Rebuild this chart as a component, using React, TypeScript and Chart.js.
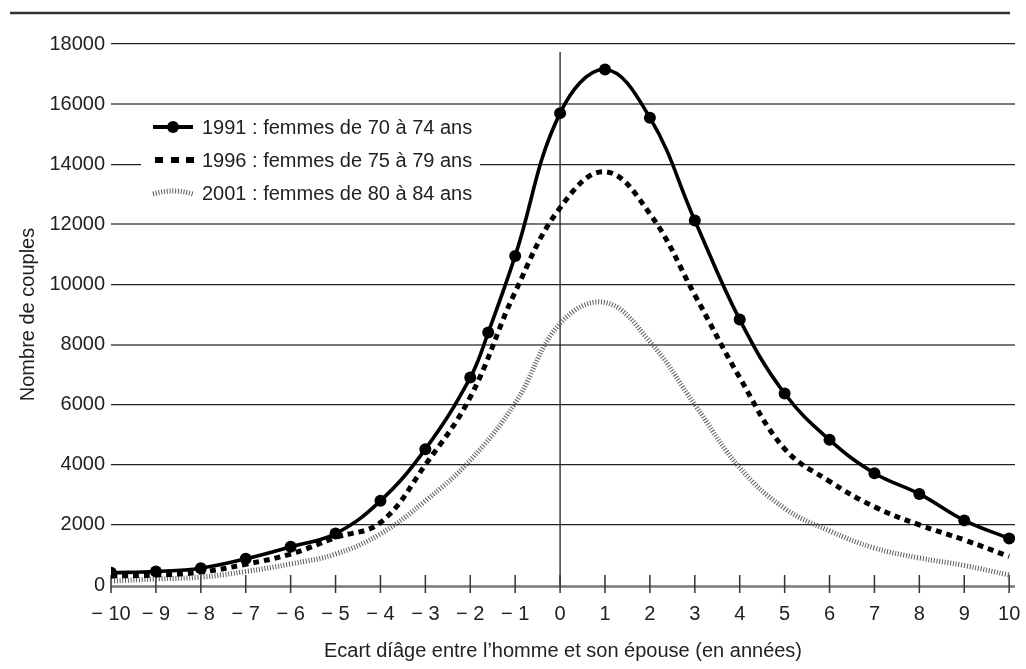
import React, { useEffect, useRef } from "react";
import { Chart, registerables } from "chart.js";

Chart.register(...registerables);

// ---- data ----
const xAges = [-10, -9, -8, -7, -6, -5, -4, -3, -2, -1, 0, 1, 2, 3, 4, 5, 6, 7, 8, 9, 10];
const xTickLabels = [
  "− 10", "− 9", "− 8", "− 7", "− 6", "− 5", "− 4", "− 3", "− 2", "− 1",
  "0", "1", "2", "3", "4", "5", "6", "7", "8", "9", "10",
];
const yTicks = [0, 2000, 4000, 6000, 8000, 10000, 12000, 14000, 16000, 18000];

const x1991 = [-10, -9, -8, -7, -6, -5, -4, -3, -2, -1.6, -1, 0, 1, 2, 3, 4, 5, 6, 7, 8, 9, 10];
const v1991 = [410, 450, 560, 870, 1270, 1710, 2800, 4520, 6900, 8400, 10950, 15700, 17150, 15550, 12130, 8830, 6370, 4830, 3720, 3030, 2150, 1550];
const v1996 = [300, 330, 430, 690, 1030, 1580, 2080, 4000, 6250, 9750, 12550, 13750, 12350, 9650, 6900, 4530, 3450, 2600, 2000, 1500, 950];
const v2001 = [130, 200, 260, 450, 700, 1030, 1700, 2800, 4150, 6050, 8700, 9400, 8100, 6000, 3900, 2550, 1800, 1230, 900, 650, 330];

const seriesLabels = [
  "1991 : femmes de 70 à 74 ans",
  "1996 : femmes de 75 à 79 ans",
  "2001 : femmes de 80 à 84 ans",
];
const yTitle = "Nombre de couples";
const xTitle = "Ecart díâge entre l’homme et son épouse (en années)";

const FONT = "'Liberation Sans', Arial, Helvetica, sans-serif";
const TEXT = "#222";

const decor = {
  id: "decor",
  beforeDatasetsDraw(chart: any) {
    const { ctx, chartArea } = chart;
    const xs = chart.scales.x;
    const ys = chart.scales.y;
    const y0 = ys.getPixelForValue(0);
    ctx.save();
    // top rule
    ctx.strokeStyle = "#333";
    ctx.lineWidth = 2.5;
    ctx.beginPath();
    ctx.moveTo(10, 13);
    ctx.lineTo(1010, 13);
    ctx.stroke();
    // vertical line at 0
    const x0 = xs.getPixelForValue(0);
    ctx.strokeStyle = "#222";
    ctx.lineWidth = 1.3;
    ctx.beginPath();
    ctx.moveTo(x0, chartArea.top + 8);
    ctx.lineTo(x0, y0);
    ctx.stroke();
    // x axis line
    ctx.strokeStyle = "#777";
    ctx.lineWidth = 2.5;
    ctx.beginPath();
    ctx.moveTo(chartArea.left, y0 + 1.5);
    ctx.lineTo(chartArea.right, y0 + 1.5);
    ctx.stroke();
    // tick marks crossing the axis
    ctx.strokeStyle = "#333";
    ctx.lineWidth = 1.5;
    xs.ticks.forEach((t: any) => {
      const px = xs.getPixelForValue(t.value);
      ctx.beginPath();
      ctx.moveTo(px, y0 - 10);
      ctx.lineTo(px, y0 + 8);
      ctx.stroke();
    });
    ctx.restore();
  },
  afterDraw(chart: any) {
    const { ctx } = chart;
    ctx.save();
    ctx.fillStyle = "#fff";
    ctx.fillRect(141, 111, 339, 98);
    const rows = [127, 160, 193];
    const ds = chart.data.datasets;
    // row 1: solid line with dot
    ctx.strokeStyle = ds[0].borderColor;
    ctx.lineWidth = 4;
    ctx.beginPath();
    ctx.moveTo(153, rows[0]);
    ctx.lineTo(193, rows[0]);
    ctx.stroke();
    ctx.fillStyle = ds[0].pointBackgroundColor;
    ctx.beginPath();
    ctx.arc(173, rows[0], 6, 0, Math.PI * 2);
    ctx.fill();
    // row 2: dashes
    ctx.fillStyle = ds[1].borderColor;
    [155, 171, 186].forEach((x) => ctx.fillRect(x, rows[1] - 3, 8, 6));
    // row 3: hatched
    ctx.strokeStyle = ds[2].borderColor;
    ctx.lineWidth = ds[2].borderWidth;
    ctx.setLineDash(ds[2].borderDash);
    ctx.beginPath();
    ctx.moveTo(153, rows[2] + 1);
    ctx.quadraticCurveTo(173, rows[2] - 5, 193, rows[2] + 1);
    ctx.stroke();
    ctx.setLineDash([]);
    // texts
    ctx.fillStyle = TEXT;
    ctx.font = `20px ${FONT}`;
    ctx.textBaseline = "middle";
    ctx.textAlign = "left";
    seriesLabels.forEach((s, i) => ctx.fillText(s, 202, rows[i] + 1));
    ctx.restore();
  },
};

export default function App() {
  const ref = useRef<HTMLCanvasElement | null>(null);
  useEffect(() => {
    if (!ref.current) return;
    const chart = new Chart(ref.current, {
      type: "line",
      data: {
        datasets: [
          {
            label: seriesLabels[0],
            data: x1991.map((x, i) => ({ x, y: v1991[i] })),
            borderColor: "#000",
            borderWidth: 3.6,
            pointRadius: 6,
            pointBackgroundColor: "#000",
            pointBorderWidth: 0,
            tension: 0.4,
            order: 0,
          },
          {
            label: seriesLabels[1],
            data: xAges.map((x, i) => ({ x, y: v1996[i] })),
            borderColor: "#000",
            borderWidth: 5,
            borderDash: [6, 5],
            pointRadius: 0,
            tension: 0.4,
            order: 1,
          },
          {
            label: seriesLabels[2],
            data: xAges.map((x, i) => ({ x, y: v2001[i] })),
            borderColor: "#5a5a5a",
            borderWidth: 5,
            borderDash: [1, 1.8],
            pointRadius: 0,
            tension: 0.4,
            order: 2,
          },
        ] as any,
      },
      options: {
        animation: false,
        responsive: false,
        layout: { padding: { left: 0, right: 11, top: 44, bottom: 0 } },
        plugins: { legend: { display: false }, tooltip: { enabled: false } },
        scales: {
          x: {
            type: "linear",
            min: -10,
            max: 10.13,
            afterBuildTicks: (scale: any) => {
              scale.ticks = xAges.map((v) => ({ value: v }));
            },
            afterFit: (scale: any) => {
              scale.height = 84;
              scale.paddingLeft = 0;
              scale.paddingRight = 0;
            },
            grid: { display: false, drawTicks: false },
            border: { display: false },
            ticks: {
              autoSkip: false,
              maxRotation: 0,
              padding: 17,
              color: TEXT,
              font: { family: FONT, size: 20 },
              callback: (v: any) => {
                const i = xAges.indexOf(Number(v));
                return i >= 0 ? xTickLabels[i] : "";
              },
            },
            title: {
              display: true,
              text: xTitle,
              color: TEXT,
              font: { family: FONT, size: 20 },
              padding: { top: 0, bottom: 6 },
            },
          },
          y: {
            min: 0,
            max: 18000,
            afterBuildTicks: (scale: any) => {
              scale.ticks = yTicks.map((v) => ({ value: v }));
            },
            afterFit: (scale: any) => {
              scale.width = 111;
              scale.paddingTop = 0;
              scale.paddingBottom = 0;
            },
            border: { display: false },
            grid: {
              drawTicks: false,
              color: (c: any) => {
                const v = c.tick && c.tick.value;
                if (v === 0) return "rgba(0,0,0,0)";
                return v === 16000 || v === 12000 || v === 8000 ? "#777" : "#222";
              },
              lineWidth: (c: any) => {
                const v = c.tick && c.tick.value;
                return v === 16000 || v === 12000 || v === 8000 ? 2 : 1.2;
              },
            },
            ticks: {
              padding: 6,
              color: TEXT,
              font: { family: FONT, size: 20 },
              callback: (v: any) => String(v),
            },
            title: {
              display: true,
              text: yTitle,
              color: TEXT,
              font: { family: FONT, size: 20 },
              padding: { top: 16, bottom: 0 },
            },
          },
        },
      },
      plugins: [decor],
    } as any);
    return () => chart.destroy();
  }, []);
  return (
    <div style={{ position: "fixed", left: 0, top: 0, width: 1026, height: 669, background: "#fff" }}>
      <canvas ref={ref} width={1026} height={669} style={{ display: "block" }} />
    </div>
  );
}
